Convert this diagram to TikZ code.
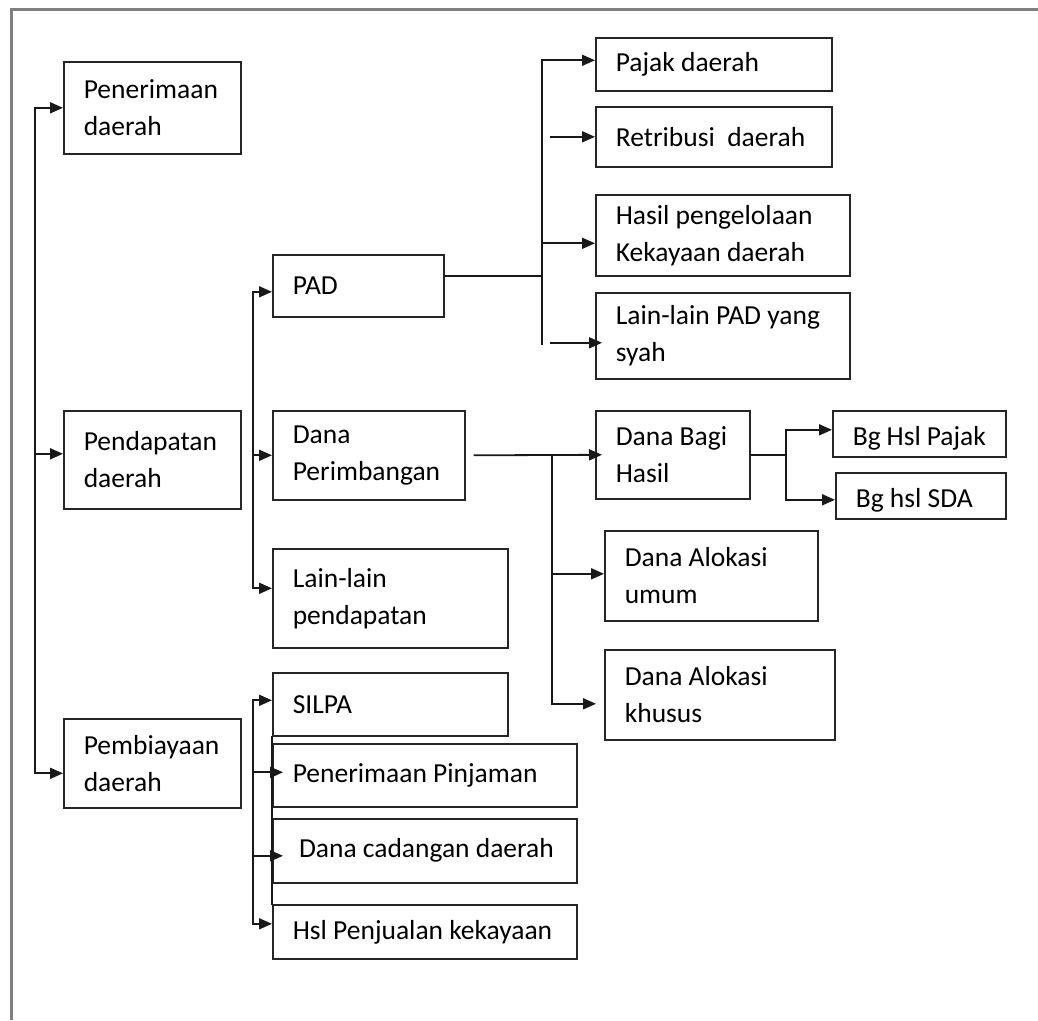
\documentclass[tikz,border=0pt]{standalone}
\usepackage{fontspec}
\setmainfont{Carlito}
\usetikzlibrary{arrows.meta}
\hyphenpenalty=10000
\exhyphenpenalty=10000
\tikzset{box/.style={draw=black!85, line width=1.6pt, anchor=north west, align=flush left, inner xsep=20pt, inner ysep=0pt, font=\fontsize{27.5}{37}\selectfont},
  low/.style={text height=24pt, text depth=0pt},
  arr/.style={-{Triangle[length=13pt,width=11pt]}, line width=1.8pt, line cap=rect, black!90},
  link/.style={line width=1.8pt, line cap=rect, black!90},
  frame/.style={line width=3pt, black!50}}

\begin{document}
\begin{tikzpicture}[x=1pt,y=-1pt]
   \useasboundingbox (0,0) rectangle (1038,1020);
   \draw[frame] (11,1020) -- (11,9) -- (1038,9);
   \coordinate (t1) at (35,0);
   \coordinate (t2) at (253,0);
   \coordinate (t4) at (542,0);
   \coordinate (t5) at (552,0);
   \coordinate (t6) at (786,0);
   \node[box, text width=137pt, minimum height=92pt] (pen)   at ( 63, 61) {Penerimaan\\daerah};
   \node[box, text width=137pt, minimum height=98pt] (pend)  at ( 63,410) {Pendapatan\\daerah};
   \node[box, text width=137pt, minimum height=89pt] (pemb)  at ( 63,718) {Pembiayaan\\daerah};
   \node[box, text width=131pt, minimum height=62pt] (pad)   at (272,254) {PAD};
   \node[box, text width=152pt, minimum height=89pt] (dp)    at (272,410) {Dana\\Perimbangan};
   \node[box, text width=195pt, minimum height=99pt] (llp)   at (272,548) {Lain-lain\\pendapatan};
   \node[box, text width=195pt, minimum height=63pt] (silpa) at (272,672) {SILPA};
   \node[box, text width=264pt, minimum height=63pt] (pinj)  at (272,743) {Penerimaan~Pinjaman};
   \node[box, text width=264pt, minimum height=64pt] (cad)   at (272,818) {~Dana~cadangan~daerah};
   \node[box, text width=264pt, minimum height=54pt] (hsl)   at (272,904) {Hsl~Penjualan~kekayaan};
   \node[box, text width=196pt, minimum height=53pt] (pajak) at (595, 37) {Pajak~daerah};
   \node[box, text width=196pt, minimum height=60pt] (retr)  at (595,106) {Retribusi~~daerah};
   \node[box, text width=214pt, minimum height=81pt] (hasil) at (595,194) {Hasil~pengelolaan\\Kekayaan~daerah};
   \node[box, text width=214pt, minimum height=86pt] (lpad)  at (595,292) {Lain-lain~PAD~yang\\syah};
   \node[box, text width=114pt, minimum height=88pt] (dbh)   at (595,410) {Dana~Bagi\\Hasil};
   \node[box, text width=173pt, minimum height=90pt] (dau)   at (604,530) {Dana~Alokasi\\umum};
   \node[box, text width=190pt, minimum height=90pt] (dak)   at (604,649) {Dana~Alokasi\\khusus};
   \node[box, low, text width=133pt, minimum height=46pt] (bgp) at (832,410) {Bg~Hsl~Pajak};
   \node[box, low, text width=130pt, minimum height=46pt] (bgs) at (835,472) {Bg~hsl~SDA};
   \draw[link] (pen.west -| t1) -- ([yshift=-10pt]pemb.west -| t1);
   \foreach \n/\s in {pen/0,pend/6,pemb/-10}
     \draw[arr] ([yshift=\s pt]\n.west -| t1) -- ([yshift=\s pt]\n.west);
   \draw[link] ([yshift=-6pt]pad.west -| t2) -- ([yshift=10pt]llp.west -| t2);
   \draw[link] ([yshift=4pt]silpa.west -| t2) -- ([yshift=8pt]hsl.west -| t2);
   \draw[link] (silpa.south west) -- (hsl.north west);
   \foreach \n/\s/\b in {pad/-6/0,dp/0/0,llp/10/0,silpa/4/0,pinj/3/11,cad/-5/11,hsl/8/0}
     \draw[arr] ([yshift=\s pt]\n.west -| t2) -- ([xshift=\b pt,yshift=\s pt]\n.west);
   \draw[link] ([yshift=10pt]pad.east) -- ([yshift=10pt]pad.east -| t4);
   \draw[link] ([yshift=4pt]pajak.west -| t4) -- ([yshift=-8pt]lpad.west -| t4);
   \foreach \n/\s/\a/\b in {pajak/4/0/0,retr/0/9/0,hasil/-8/0/0,lpad/-7/9/7}
     \draw[arr] ([xshift=\a pt,yshift=\s pt]\n.west -| t4) -- ([xshift=\b pt,yshift=\s pt]\n.west);
   \draw[arr] ([xshift=9pt]dp.east) -- ([xshift=7pt]dbh.west);
   \draw[link] (dbh.west -| t5) -- ([yshift=-9pt]dak.west -| t5);
   \foreach \n/\s/\b in {dau/2/0,dak/-9/-8}
     \draw[arr] ([yshift=\s pt]\n.west -| t5) -- ([xshift=\b pt,yshift=\s pt]\n.west);
   \draw[link] (dbh.east) -- (dbh.east -| t6);
   \draw[link] ([yshift=4pt]bgp.west -| t6) -- ([yshift=-4pt]bgs.west -| t6);
   \foreach \n/\s in {bgp/4,bgs/-4}
     \draw[arr] ([yshift=\s pt]\n.west -| t6) -- ([yshift=\s pt]\n.west);
\end{tikzpicture}
\end{document}
